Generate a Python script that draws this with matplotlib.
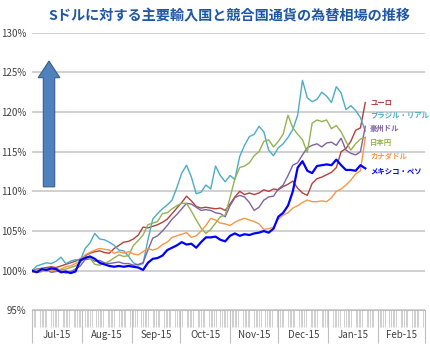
import numpy as np
import pandas as pd
import matplotlib
matplotlib.use("Agg")
import matplotlib.pyplot as plt
import matplotlib.dates as mdates
from matplotlib.patches import FancyArrow

plt.rcParams['font.family'] = ['Noto Sans CJK JP', 'DejaVu Sans']

# every 3 days from 1 Jul 2015 (index 100 = start)
dates = pd.date_range('2015-07-01', periods=70, freq='3D')

euro = [100.0, 100.2, 100.3, 100.4, 100.5, 100.4, 100.6, 100.8, 101.0, 101.2,
        101.5, 101.9, 102.2, 102.4, 102.5, 102.3, 102.2, 102.8, 103.2, 103.6,
        103.7, 104.0, 104.5, 105.5, 105.4, 105.6, 105.8, 106.1, 106.5, 107.2,
        107.9, 108.6, 109.4, 108.8, 108.1, 107.9, 108.0, 107.9, 107.8, 107.9,
        107.6, 108.4, 109.3, 110.0, 109.6, 109.8, 109.6, 109.8, 110.2, 110.0,
        110.3, 110.2, 110.6, 110.9, 111.3, 110.4, 109.8, 109.5, 111.0, 111.6,
        111.8, 112.1, 112.4, 113.0, 115.0, 115.4, 116.3, 117.7, 118.0, 121.2]
brazil = [100.0, 100.6, 100.8, 101.0, 100.9, 101.2, 101.7, 100.9, 101.2, 101.4,
          101.3, 102.8, 103.5, 104.7, 104.0, 103.9, 103.6, 103.2, 102.6, 102.5,
          101.8, 101.0, 100.7, 100.9, 103.9, 106.5, 107.2, 107.8, 108.3, 108.9,
          110.5, 112.3, 113.3, 111.8, 109.7, 109.9, 110.8, 110.3, 113.2, 112.0,
          111.2, 112.0, 111.5, 114.4, 115.8, 116.9, 117.2, 118.2, 117.5, 115.2,
          114.5, 115.5, 116.0, 116.8, 117.8, 119.6, 124.0, 121.8, 121.3, 121.6,
          122.5, 122.0, 121.2, 123.2, 122.4, 120.3, 120.8, 120.2, 119.3, 117.6]
aussie = [100.0, 99.8, 99.9, 100.1, 99.8, 99.9, 100.0, 99.7, 99.9, 100.2,
          100.6, 101.4, 101.5, 101.2, 101.3, 101.0, 100.9, 101.0, 101.1, 100.9,
          100.9, 100.7, 100.8, 101.0, 102.6, 104.1, 104.4, 105.0, 105.7, 106.5,
          107.1, 107.8, 108.5, 108.4, 108.0, 107.6, 107.7, 107.6, 107.3, 107.2,
          106.8, 108.2, 109.2, 109.5, 109.3, 108.6, 107.6, 108.0, 108.9, 109.3,
          109.4, 110.3, 110.8, 112.0, 113.3, 113.6, 114.6, 115.5, 115.8, 116.0,
          115.6, 116.1, 116.2, 115.8, 116.7, 115.2, 114.8, 114.6, 115.0, 118.2]
yen = [100.0, 100.1, 100.3, 100.2, 100.2, 100.3, 100.1, 100.2, 100.4, 100.6,
       101.0, 101.8, 101.6, 100.8, 100.7, 100.9, 101.2, 101.6, 102.0, 101.8,
       101.9, 103.2, 103.8, 104.5, 105.8, 106.0, 106.2, 107.2, 107.3, 107.8,
       108.2, 108.5, 108.5, 107.5, 106.4, 105.4, 104.7, 105.2, 106.0, 106.8,
       107.0, 109.2, 111.6, 113.0, 113.2, 113.6, 114.5, 115.0, 116.3, 116.5,
       115.6, 116.3, 117.2, 119.6, 118.0, 117.2, 116.5, 114.9, 118.6, 119.0,
       118.8, 119.0, 117.9, 118.3, 117.5, 116.3, 115.2, 116.0, 116.6, 116.8]
cad = [99.8, 99.9, 100.0, 99.9, 100.1, 100.0, 100.2, 100.5, 100.6, 100.9,
       101.2, 102.0, 102.3, 102.6, 102.8, 102.7, 102.6, 102.2, 102.4, 102.2,
       102.4, 102.1, 102.0, 102.4, 102.8, 102.6, 102.8, 103.3, 103.6, 104.2,
       104.4, 104.6, 104.8, 104.2, 104.4, 105.0, 105.7, 106.6, 106.4, 106.0,
       105.9, 105.7, 106.1, 106.4, 106.6, 106.4, 106.2, 105.9, 105.2, 105.3,
       105.5, 106.5, 107.0, 107.3, 107.9, 108.2, 108.6, 108.9, 108.7, 108.7,
       108.8, 108.7, 109.2, 110.0, 110.3, 110.8, 111.4, 112.2, 112.6, 116.8]
peso = [100.0, 99.8, 100.2, 100.1, 100.3, 100.2, 99.8, 99.9, 99.7, 99.9,
        101.3, 101.6, 101.8, 101.5, 101.0, 100.8, 100.6, 100.5, 100.6, 100.5,
        100.6, 100.5, 100.4, 100.1, 101.0, 101.5, 101.6, 101.9, 102.6, 102.9,
        103.2, 103.6, 103.3, 103.4, 102.9, 103.6, 104.2, 104.2, 104.3, 103.9,
        103.7, 104.4, 104.7, 104.4, 104.6, 104.5, 104.7, 104.8, 105.0, 104.8,
        105.3, 106.8, 107.3, 108.2, 110.0, 113.0, 113.8, 112.6, 112.3, 113.2,
        113.3, 113.4, 113.3, 114.0, 113.3, 112.7, 112.7, 112.6, 113.3, 112.9]

names = ['ユーロ', 'ブラジル・リアル', '豪州ドル', '日本円', 'カナダドル', 'メキシコ・ペソ']
colors = ['#B0413E', '#4BACC6', '#7F63A1', '#93B350', '#F79646', '#0000FF']
series = [euro, brazil, aussie, yen, cad, peso]
widths = [1.0, 1.0, 1.0, 1.0, 1.0, 1.6]
label_y = [121.3, 119.6, 117.9, 116.2, 114.3, 112.5]

month_labels = ['Jul-15', 'Aug-15', 'Sep-15', 'Oct-15', 'Nov-15', 'Dec-15', 'Jan-15', 'Feb-15']
yticks = [95, 100, 105, 110, 115, 120, 125, 130]

fig = plt.figure(figsize=(4.3, 3.61), dpi=100)
ax = fig.add_axes([0.0744, 0.1402, 0.9136, 0.7692])

for vals, c, lw in zip(series, colors, widths):
    ax.plot(dates, vals, color=c, lw=lw, zorder=3)

# series names at the right end
xlab = pd.Timestamp('2016-01-27')
for name, c, yv in zip(names, colors, label_y):
    ax.text(xlab, yv, name, color=c, fontsize=5.3, va='center', ha='left', fontweight='bold')

month_starts = pd.date_range('2015-07-01', '2016-03-01', freq='MS')
ax.set_xlim(month_starts[0], month_starts[-1])
ax.set_ylim(95, 130)

ax.set_yticks(yticks)
ax.set_yticklabels([f'{v}%' for v in yticks])
ax.yaxis.grid(True, color='#C4C4C4', lw=1.1)
ax.set_axisbelow(True)
ax.tick_params(axis='y', length=0, pad=4, labelsize=7, labelcolor='#404040')

ax.set_xticks(mdates.date2num(month_starts))
ax.set_xticklabels([])
ax.set_xticks(mdates.date2num(pd.bdate_range('2015-07-01', '2016-02-29')), minor=True)
ax.tick_params(axis='x', which='major', length=24, width=0.8, color='#BFBFBF')
ax.tick_params(axis='x', which='minor', length=12, width=0.6, color='#C8C8C8')

mids = month_starts[:-1] + (month_starts[1:] - month_starts[:-1]) / 2
for m, lab in zip(mids, month_labels):
    ax.text(m, -0.088, lab, transform=ax.get_xaxis_transform(), ha='center', va='center',
            fontsize=7, color='#404040')

for s in ['top', 'right', 'left']:
    ax.spines[s].set_visible(False)
ax.spines['bottom'].set_color('#BFBFBF')

arrow = FancyArrow(0.0433, 0.445, 0, 0.453, width=0.029, head_width=0.055, head_length=0.06,
                   length_includes_head=True, transform=ax.transAxes,
                   facecolor='#4F81BD', edgecolor='#385D8A', lw=0.8, zorder=4)
ax.add_patch(arrow)

fig.text(0.533, 0.955, 'Sドルに対する主要輸入国と競合国通貨の為替相場の推移', ha='center', va='center',
         fontsize=10.2, fontweight='bold', color='#1F57A4')

fig.savefig('out.png', dpi=100)
